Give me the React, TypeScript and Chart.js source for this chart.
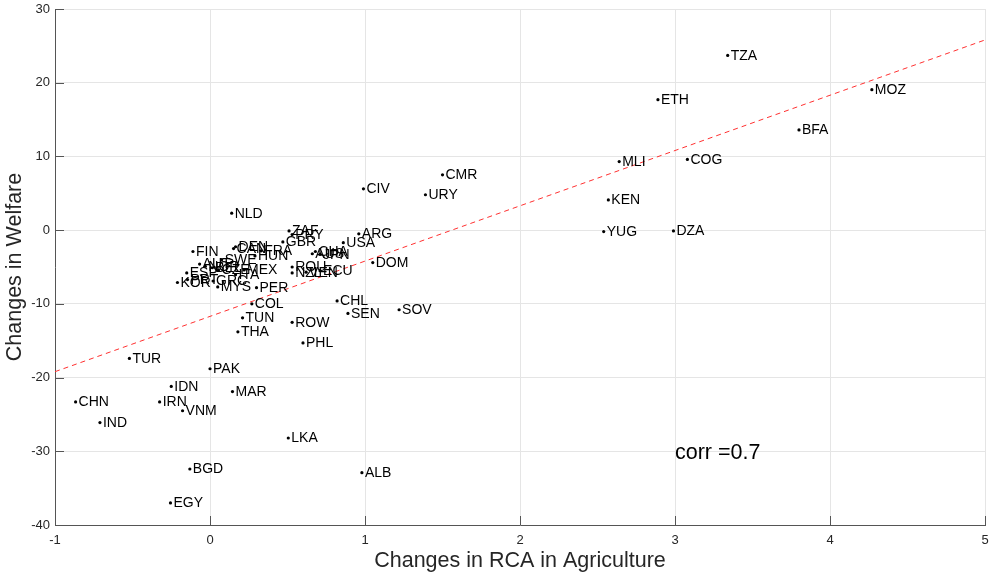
import React, { useEffect, useRef } from "react";
import { Chart, registerables } from "chart.js";

Chart.register(...registerables);

const countries = [
  "TZA", "MOZ", "ETH", "BFA", "MLI", "COG", "CMR", "CIV", "URY", "KEN",
  "NLD", "YUG", "DZA", "ZAF", "PRY", "GBR", "ARG", "USA", "CHA", "AUS",
  "JPN", "DOM", "ROU", "NZL", "VEN", "ECU", "FIN", "DEN", "CAN", "FRA",
  "HUN", "SWE", "AUT", "NOR", "BEL", "ESP", "CZE", "MEX", "ITA", "KOR",
  "PRT", "GRC", "MYS", "PER", "COL", "TUN", "THA", "ROW", "PHL", "CHL",
  "SEN", "SOV", "TUR", "PAK", "IDN", "MAR", "CHN", "IRN", "VNM", "IND",
  "LKA", "BGD", "ALB", "EGY",
];

const rcaChanges = [
  3.34, 4.27, 2.89, 3.80, 2.64, 3.08, 1.50, 0.99, 1.39, 2.57,
  0.14, 2.54, 2.99, 0.51, 0.53, 0.47, 0.96, 0.86, 0.68, 0.66,
  0.71, 1.05, 0.53, 0.53, 0.62, 0.71, -0.11, 0.165, 0.152, 0.33,
  0.29, 0.075, -0.067, -0.03, 0.015, -0.15, 0.055, 0.22, 0.165, -0.21,
  -0.145, 0.02, 0.05, 0.30, 0.27, 0.21, 0.18, 0.53, 0.60, 0.82,
  0.89, 1.22, -0.52, 0.0, -0.25, 0.145, -0.867, -0.325, -0.177, -0.71,
  0.505, -0.13, 0.98, -0.255,
];

const welfareChanges = [
  23.7, 19.05, 17.7, 13.6, 9.3, 9.6, 7.5, 5.6, 4.8, 4.1,
  2.3, -0.2, -0.1, -0.1, -0.6, -1.6, -0.5, -1.7, -2.9, -3.2,
  -3.3, -4.4, -5.0, -5.8, -5.7, -5.5, -2.9, -2.25, -2.5, -2.8,
  -3.5, -4.0, -4.6, -4.9, -5.1, -5.8, -5.4, -5.4, -6.05, -7.1,
  -6.7, -6.9, -7.7, -7.8, -10.0, -11.9, -13.8, -12.5, -15.3, -9.6,
  -11.3, -10.8, -17.4, -18.8, -21.2, -21.9, -23.3, -23.3, -24.5, -26.1,
  -28.2, -32.4, -32.9, -37.0,
];

const trendX = [-1, 5];
const trendY = [-19.2, 25.8];

const xTicks = [-1, 0, 1, 2, 3, 4, 5];
const yTicks = [-40, -30, -20, -10, 0, 10, 20, 30];

const corrText = "corr =0.7";
const corrPos = { x: 3.0, y: -30.3 };

const FONT = "'Liberation Sans', Arial, Helvetica, sans-serif";

export default function App() {
  const ref = useRef<HTMLCanvasElement | null>(null);

  useEffect(() => {
    document.body.style.margin = "0";
    const canvas = ref.current;
    if (!canvas) return;

    const overlay = {
      id: "overlay",
      afterDatasetsDraw(chart: any) {
        const ctx = chart.ctx;
        const xs = chart.scales.x;
        const ys = chart.scales.y;
        const area = chart.chartArea;
        ctx.save();
        ctx.strokeStyle = "#555";
        ctx.lineWidth = 1;
        ctx.beginPath();
        xTicks.forEach((t) => {
          const px = Math.round(xs.getPixelForValue(t)) + 0.5;
          ctx.moveTo(px, area.bottom);
          ctx.lineTo(px, area.bottom - 9);
        });
        yTicks.forEach((t) => {
          const py = Math.round(ys.getPixelForValue(t)) + 0.5;
          ctx.moveTo(area.left, py);
          ctx.lineTo(area.left + 9, py);
        });
        ctx.stroke();

        ctx.fillStyle = "#000";
        ctx.font = `14px ${FONT}`;
        ctx.textBaseline = "middle";
        ctx.textAlign = "left";
        countries.forEach((c, i) => {
          const px = xs.getPixelForValue(rcaChanges[i]);
          const py = ys.getPixelForValue(welfareChanges[i]);
          ctx.fillText(c, px + 3, py + 0.5);
        });

        ctx.font = `21.5px ${FONT}`;
        ctx.fillText(corrText, xs.getPixelForValue(corrPos.x), ys.getPixelForValue(corrPos.y));
        ctx.restore();
      },
    };

    const chart = new Chart(canvas, {
      type: "scatter",
      data: {
        datasets: [
          {
            type: "line",
            data: trendX.map((x, i) => ({ x, y: trendY[i] })),
            borderColor: "#ff3030",
            borderWidth: 1,
            borderDash: [5, 4],
            pointRadius: 0,
            fill: false,
          } as any,
          {
            data: countries.map((_, i) => ({ x: rcaChanges[i], y: welfareChanges[i] })),
            backgroundColor: "#000",
            borderColor: "#000",
            pointRadius: 1.6,
            borderWidth: 0,
          },
        ],
      },
      options: {
        responsive: false,
        animation: false,
        layout: { padding: { left: 0, right: 3, top: 9, bottom: 0 } },
        plugins: { legend: { display: false }, tooltip: { enabled: false } },
        scales: {
          x: {
            type: "linear",
            min: -1,
            max: 5,
            afterBuildTicks: (s: any) => {
              s.ticks = xTicks.map((v) => ({ value: v }));
            },
            afterFit: (s: any) => {
              s.height = 47;
              s.paddingLeft = 0;
              s.paddingRight = 0;
            },
            grid: { color: "#e5e5e5", drawTicks: false, tickLength: 0 },
            border: { display: true, color: "#555", width: 1 },
            ticks: {
              color: "#262626",
              font: { family: FONT, size: 13 },
              padding: 8,
              maxRotation: 0,
            },
            title: {
              display: true,
              text: "Changes in RCA in Agriculture",
              color: "#262626",
              font: { family: FONT, size: 21.5 },
              padding: { top: 0, bottom: -2 },
            },
          },
          y: {
            type: "linear",
            min: -40,
            max: 30,
            afterBuildTicks: (s: any) => {
              s.ticks = yTicks.map((v) => ({ value: v }));
            },
            afterFit: (s: any) => {
              s.width = 55;
              s.paddingTop = 0;
              s.paddingBottom = 0;
            },
            grid: { color: "#e5e5e5", drawTicks: false, tickLength: 0 },
            border: { display: true, color: "#555", width: 1 },
            ticks: {
              color: "#262626",
              font: { family: FONT, size: 13 },
              padding: 5,
            },
            title: {
              display: true,
              text: "Changes in Welfare",
              color: "#262626",
              font: { family: FONT, size: 21.5 },
              padding: { top: 2, bottom: 4 },
            },
          },
        },
      },
      plugins: [overlay],
    });

    return () => chart.destroy();
  }, []);

  return (
    <div style={{ width: 989, height: 572 }}>
      <canvas ref={ref} width={989} height={572} style={{ display: "block" }} />
    </div>
  );
}
